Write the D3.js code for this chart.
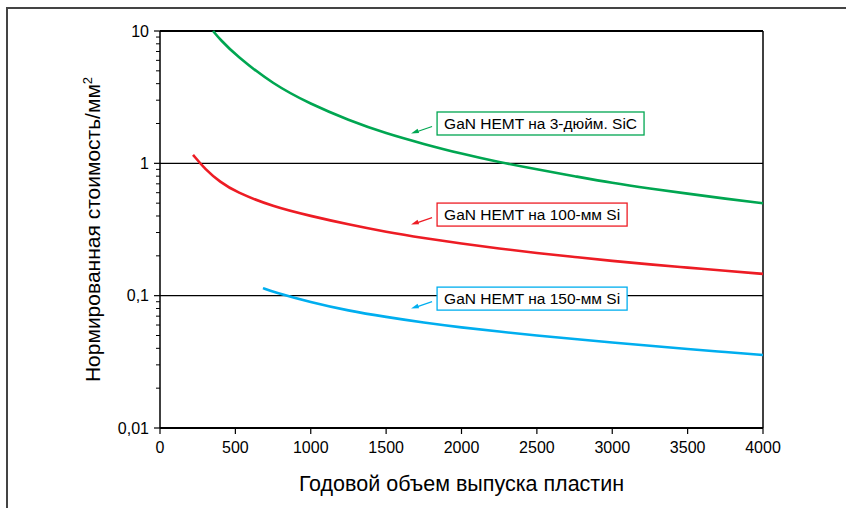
<!doctype html>
<html lang="ru">
<head>
<meta charset="UTF-8">
<title>GaN HEMT cost</title>
<style type="text/css">
body {
  margin: 0;
  padding: 0;
  background: #fff;
  font-family: 'Liberation Sans', Arial, sans-serif;
}
</style>
<script type="text/javascript" src="https://cdn.jsdelivr.net/npm/d3@7/dist/d3.min.js"></script>
</head>
<body>
<div id="chart"></div>
<script type="text/javascript">

// wafer volume per year -> normalized cost per mm^2
var sicVolume  = [352, 400, 500, 750, 1000, 1250, 1500, 1750, 2000, 2250, 2500, 2750, 3000, 3250, 3500, 3750, 4000];
var sicCost    = [10, 8.6, 6.6, 3.95, 2.8, 2.12, 1.68, 1.4, 1.18, 1.02, 0.9, 0.8, 0.71, 0.645, 0.59, 0.54, 0.5];

var si100Volume = [219, 300, 400, 500, 750, 1000, 1250, 1500, 1750, 2000, 2250, 2500, 2750, 3000, 3250, 3500, 3750, 4000];
var si100Cost   = [1.16, 0.9, 0.72, 0.61, 0.47, 0.4, 0.345, 0.303, 0.272, 0.247, 0.227, 0.21, 0.196, 0.183, 0.172, 0.163, 0.154, 0.146];

var si150Volume = [683, 750, 1000, 1250, 1500, 1750, 2000, 2250, 2500, 2750, 3000, 3250, 3500, 3750, 4000];
var si150Cost   = [0.114, 0.107, 0.089, 0.077, 0.069, 0.0625, 0.0575, 0.0535, 0.05, 0.047, 0.0443, 0.0418, 0.0395, 0.0375, 0.0356];

var seriesNames  = ['GaN HEMT на 3-дюйм. SiC', 'GaN HEMT на 100-мм Si', 'GaN HEMT на 150-мм Si'];
var seriesColors = ['#00a651', '#ed1c24', '#00aeef'];

var xTicks = [0, 500, 1000, 1500, 2000, 2500, 3000, 3500, 4000];
var yTicks = [0.01, 0.1, 1, 10];
var yTickLabels = ['0,01', '0,1', '1', '10'];

// label box anchor points in data units (volume, cost)
var labelAt = [[1838, 2.0], [1838, 0.41], [1838, 0.095]];

function zipPoints(xs, ys) {
  return xs.map(function(x, i) { return [x, ys[i]]; });
}

function init() {
  var w = 846, h = 508;
  var left = 160, right = 763, top = 31, bottom = 428;

  var svg = d3.select('#chart').append('svg')
    .attr('width', w)
    .attr('height', h);

  // outer frame (only left and top are visible)
  svg.append('path')
    .attr('d', 'M7,' + h + 'V8H' + w)
    .attr('fill', 'none')
    .attr('stroke', '#444')
    .attr('stroke-width', 2);

  var x = d3.scaleLinear().domain([0, 4000]).range([left, right]);
  var y = d3.scaleLog().domain([0.01, 10]).range([bottom, top]);

  // gridlines at 1 and 0.1, plus top frame
  svg.selectAll('line.grid').data([0.1, 1])
    .enter().append('line')
    .attr('class', 'grid')
    .attr('x1', left).attr('x2', right)
    .attr('y1', function(d) { return y(d); })
    .attr('y2', function(d) { return y(d); })
    .attr('stroke', '#000')
    .attr('stroke-width', 1.2);

  svg.append('line')
    .attr('x1', left).attr('x2', right)
    .attr('y1', y(10)).attr('y2', y(10))
    .attr('stroke', '#000').attr('stroke-width', 1.8);
  svg.append('line')
    .attr('x1', x(4000)).attr('x2', x(4000))
    .attr('y1', top).attr('y2', bottom)
    .attr('stroke', '#000').attr('stroke-width', 1.5);

  // y axis with minor ticks
  var minor = [];
  [0.01, 0.1, 1].forEach(function(d) {
    for (var k = 2; k < 10; k++) minor.push(d * k);
  });
  var yAxis = svg.append('g').attr('transform', 'translate(' + left + ',0)');
  yAxis.append('line')
    .attr('x1', 0).attr('x2', 0).attr('y1', top).attr('y2', bottom)
    .attr('stroke', '#000').attr('stroke-width', 1.5);
  yAxis.selectAll('line.minor').data(minor)
    .enter().append('line')
    .attr('class', 'minor')
    .attr('x1', -4).attr('x2', 0)
    .attr('y1', function(d) { return y(d); })
    .attr('y2', function(d) { return y(d); })
    .attr('stroke', '#000').attr('stroke-width', 1);
  yAxis.selectAll('line.major').data(yTicks)
    .enter().append('line')
    .attr('class', 'major')
    .attr('x1', -6).attr('x2', 0)
    .attr('y1', function(d) { return y(d); })
    .attr('y2', function(d) { return y(d); })
    .attr('stroke', '#000').attr('stroke-width', 1.2);
  yAxis.selectAll('text').data(yTicks)
    .enter().append('text')
    .attr('x', -11)
    .attr('y', function(d) { return y(d); })
    .attr('dy', '0.35em')
    .attr('text-anchor', 'end')
    .style('font-size', '16px')
    .text(function(d, i) { return yTickLabels[i]; });

  // x axis
  var xAxis = svg.append('g').attr('transform', 'translate(0,' + bottom + ')');
  xAxis.append('line')
    .attr('x1', left).attr('x2', right).attr('y1', 0).attr('y2', 0)
    .attr('stroke', '#000').attr('stroke-width', 2.2);
  xAxis.selectAll('line.tick').data(xTicks)
    .enter().append('line')
    .attr('class', 'tick')
    .attr('x1', function(d) { return x(d); })
    .attr('x2', function(d) { return x(d); })
    .attr('y1', 0).attr('y2', 6)
    .attr('stroke', '#000').attr('stroke-width', 1.2);
  xAxis.selectAll('text').data(xTicks)
    .enter().append('text')
    .attr('x', function(d) { return x(d); })
    .attr('y', 25)
    .attr('text-anchor', 'middle')
    .style('font-size', '16px')
    .text(function(d) { return d; });

  // axis titles
  svg.append('text')
    .attr('x', (left + right) / 2)
    .attr('y', 491)
    .attr('text-anchor', 'middle')
    .style('font-size', '21.5px')
    .text('Годовой объем выпуска пластин');

  svg.append('text')
    .attr('transform', 'translate(100,' + ((top + bottom) / 2) + ') rotate(-90)')
    .attr('text-anchor', 'middle')
    .style('font-size', '21px')
    .html('Нормированная стоимость/мм<tspan dy="-8" font-size="13px">2</tspan>');

  // curves
  var series = [
    zipPoints(sicVolume, sicCost),
    zipPoints(si100Volume, si100Cost),
    zipPoints(si150Volume, si150Cost)
  ];
  var line = d3.line()
    .x(function(d) { return x(d[0]); })
    .y(function(d) { return y(d[1]); })
    .curve(d3.curveBasis);

  svg.selectAll('path.series').data(series)
    .enter().append('path')
    .attr('class', 'series')
    .attr('d', line)
    .attr('fill', 'none')
    .attr('stroke', function(d, i) { return seriesColors[i]; })
    .attr('stroke-width', 2.6);

  // label boxes with arrows
  seriesNames.forEach(function(name, i) {
    var bx = x(labelAt[i][0]), by = y(labelAt[i][1]);
    var g = svg.append('g').attr('transform', 'translate(' + bx + ',' + by + ')');
    var rect = g.append('rect')
      .attr('y', -11.5)
      .attr('height', 23)
      .attr('fill', '#fff')
      .attr('stroke', seriesColors[i])
      .attr('stroke-width', 1.3);
    var t = g.append('text')
      .attr('x', 7)
      .attr('y', 0)
      .attr('dy', '0.36em')
      .style('font-size', '15.5px')
      .text(name);
    var tw = t.node().getComputedTextLength();
    rect.attr('width', tw + 14);

    g.append('line')
      .attr('x1', -5).attr('y1', 3)
      .attr('x2', -21).attr('y2', 8.5)
      .attr('stroke', seriesColors[i])
      .attr('stroke-width', 1.2);
    g.append('path')
      .attr('d', 'M-26,10 L-19.5,5.2 L-18,9.6 Z')
      .attr('fill', seriesColors[i]);
  });
}

window.onload = init;
</script>
</body>
</html>
